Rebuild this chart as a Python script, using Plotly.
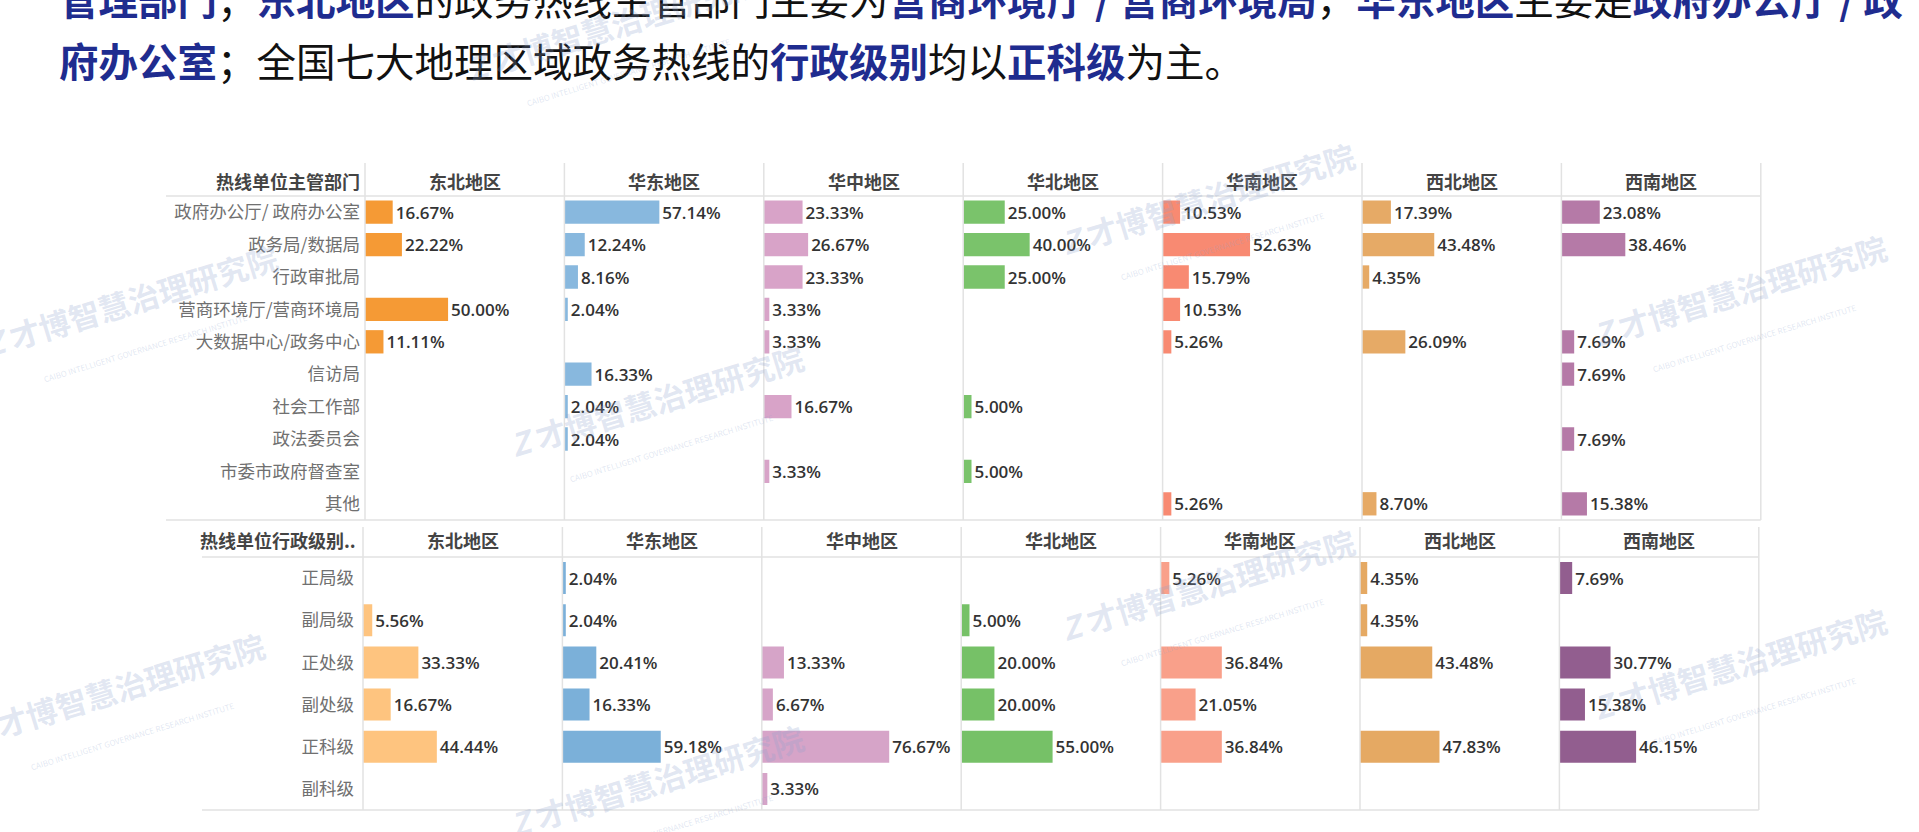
import plotly.graph_objects as go

W, H = 1919, 832

# ---------------- data ----------------
regions = ["东北地区", "华东地区", "华中地区", "华北地区", "华南地区", "西北地区", "西南地区"]

dept_categories = ["政府办公厅/ 政府办公室", "政务局/数据局", "行政审批局", "营商环境厅/营商环境局",
                   "大数据中心/政务中心", "信访局", "社会工作部", "政法委员会", "市委市政府督查室", "其他"]
dept_dongbei = [16.67, 22.22, None, 50.00, 11.11, None, None, None, None, None]
dept_huadong = [57.14, 12.24, 8.16, 2.04, None, 16.33, 2.04, 2.04, None, None]
dept_huazhong = [23.33, 26.67, 23.33, 3.33, 3.33, None, 16.67, None, 3.33, None]
dept_huabei = [25.00, 40.00, 25.00, None, None, None, 5.00, None, 5.00, None]
dept_huanan = [10.53, 52.63, 15.79, 10.53, 5.26, None, None, None, None, 5.26]
dept_xibei = [17.39, 43.48, 4.35, None, 26.09, None, None, None, None, 8.70]
dept_xinan = [23.08, 38.46, None, None, 7.69, 7.69, None, 7.69, None, 15.38]

level_categories = ["正局级", "副局级", "正处级", "副处级", "正科级", "副科级"]
level_dongbei = [None, 5.56, 33.33, 16.67, 44.44, None]
level_huadong = [2.04, 2.04, 20.41, 16.33, 59.18, None]
level_huazhong = [None, None, 13.33, 6.67, 76.67, 3.33]
level_huabei = [None, 5.00, 20.00, 20.00, 55.00, None]
level_huanan = [5.26, None, 36.84, 21.05, 36.84, None]
level_xibei = [4.35, 4.35, 43.48, None, 47.83, None]
level_xinan = [7.69, None, 30.77, 15.38, 46.15, None]

dept_series = [dept_dongbei, dept_huadong, dept_huazhong, dept_huabei, dept_huanan, dept_xibei, dept_xinan]
level_series = [level_dongbei, level_huadong, level_huazhong, level_huabei, level_huanan, level_xibei, level_xinan]

dept_colors = ["#F59A35", "#88B8DE", "#D8A3C8", "#7AC36B", "#F88A72", "#E6AA66", "#B57AA7"]
level_colors = ["#FEC47F", "#7BB0D9", "#D6A4C8", "#76C167", "#F9A08A", "#E5A963", "#925E8F"]

# ---------------- layout helpers ----------------
def px(x):
    return x / W

def py(y):
    return 1 - y / H

COL_W = 199.4
TOP_X0, BOT_X0 = 365.0, 363.0
TOP_Y0, TOP_Y1 = 196.0, 520.0
BOT_Y0, BOT_Y1 = 557.0, 810.0

FONT = "Open Sans, Noto Sans CJK SC, sans-serif"
CJK = "Noto Sans CJK SC, sans-serif"
LINE = "#e2e2e2"

fig = go.Figure()
layout = dict(
    width=W, height=H, margin=dict(l=0, r=0, t=0, b=0),
    paper_bgcolor="white", plot_bgcolor="rgba(0,0,0,0)",
    showlegend=False, font=dict(family=FONT),
)

def fmt(v):
    return "" if v is None else f"{v:.2f}%"

VAL_FONT = dict(family=FONT, size=17, color="#333333", weight=600)

for i in range(7):
    # top panel
    xa = "x" if i == 0 else f"x{i + 1}"
    xkey = "xaxis" if i == 0 else f"xaxis{i + 1}"
    fig.add_trace(go.Bar(
        y=dept_categories, x=dept_series[i], orientation="h",
        xaxis=xa, yaxis="y", marker=dict(color=dept_colors[i], line=dict(width=0)),
        width=0.72, text=[fmt(v) for v in dept_series[i]], textposition="outside",
        textfont=VAL_FONT, cliponaxis=False, constraintext="none", hoverinfo="skip",
    ))
    layout[xkey] = dict(domain=[px(TOP_X0 + COL_W * i), px(TOP_X0 + COL_W * (i + 1))],
                        range=[0, 120], anchor="y", visible=False, fixedrange=True)
    # bottom panel
    j = i + 8
    xb = f"x{j}"
    fig.add_trace(go.Bar(
        y=level_categories, x=level_series[i], orientation="h",
        xaxis=xb, yaxis="y2", marker=dict(color=level_colors[i], line=dict(width=0)),
        width=0.76, text=[fmt(v) for v in level_series[i]], textposition="outside",
        textfont=VAL_FONT, cliponaxis=False, constraintext="none", hoverinfo="skip",
    ))
    layout[f"xaxis{j}"] = dict(domain=[px(BOT_X0 + COL_W * i), px(BOT_X0 + COL_W * (i + 1))],
                               range=[0, 120], anchor="y2", visible=False, fixedrange=True)

layout["yaxis"] = dict(domain=[py(TOP_Y1), py(TOP_Y0)], type="category",
                       categoryorder="array", categoryarray=dept_categories,
                       range=[len(dept_categories) - 0.5, -0.5], anchor="x",
                       showgrid=False, zeroline=False, showline=False, ticks="",
                       ticklabelstandoff=4, tickfont=dict(family=CJK, size=17.5, color="#707070"))
layout["yaxis2"] = dict(domain=[py(BOT_Y1), py(BOT_Y0)], type="category",
                        categoryorder="array", categoryarray=level_categories,
                        range=[len(level_categories) - 0.5, -0.5], anchor="x8",
                        showgrid=False, zeroline=False, showline=False, ticks="",
                        ticklabelstandoff=8, tickfont=dict(family=CJK, size=17.5, color="#707070"))

shapes = []
# top panel lines
for yy in (TOP_Y0, TOP_Y1):
    shapes.append(dict(type="line", xref="paper", yref="paper", x0=px(166), x1=px(TOP_X0 + 7 * COL_W),
                       y0=py(yy), y1=py(yy), line=dict(color=LINE, width=1.5)))
for i in range(8):
    xx = TOP_X0 + COL_W * i
    shapes.append(dict(type="line", xref="paper", yref="paper", x0=px(xx), x1=px(xx),
                       y0=py(163), y1=py(TOP_Y1), line=dict(color=LINE, width=1.5)))
# bottom panel lines
for yy in (BOT_Y0, BOT_Y1):
    shapes.append(dict(type="line", xref="paper", yref="paper", x0=px(202), x1=px(BOT_X0 + 7 * COL_W),
                       y0=py(yy), y1=py(yy), line=dict(color=LINE, width=1.5)))
for i in range(8):
    xx = BOT_X0 + COL_W * i
    shapes.append(dict(type="line", xref="paper", yref="paper", x0=px(xx), x1=px(xx),
                       y0=py(527), y1=py(BOT_Y1), line=dict(color=LINE, width=1.5)))
layout["shapes"] = shapes

ann = []
hdr_font = dict(family=CJK, size=18, color="#444444", weight="bold")
for i, r in enumerate(regions):
    ann.append(dict(text=r, xref="paper", yref="paper", x=px(TOP_X0 + COL_W * (i + 0.5)), y=py(181),
                    xanchor="center", yanchor="middle", showarrow=False, font=hdr_font))
    ann.append(dict(text=r, xref="paper", yref="paper", x=px(BOT_X0 + COL_W * (i + 0.5)), y=py(540),
                    xanchor="center", yanchor="middle", showarrow=False, font=hdr_font))
ann.append(dict(text="热线单位主管部门", xref="paper", yref="paper", x=px(362), y=py(181),
                xanchor="right", yanchor="middle", showarrow=False, font=hdr_font))
ann.append(dict(text="热线单位行政级别..", xref="paper", yref="paper", x=px(358), y=py(540),
                xanchor="right", yanchor="middle", showarrow=False, font=hdr_font))

# headline text (slide body)
BLUE = "#1F2C8F"
def b(t):
    return f"<b><span style='color:{BLUE}'>{t}</span></b>"
line1 = (b("管理部门") + "；" + b("东北地区") + "的政务热线主管部门主要为" + b("营商环境厅 / 营商环境局")
         + "，" + b("华东地区") + "主要是" + b("政府办公厅 / 政"))
line2 = b("府办公室") + "；全国七大地理区域政务热线的" + b("行政级别") + "均以" + b("正科级") + "为主。"
for txt, yy in ((line1, -2), (line2, 60)):
    ann.append(dict(text=txt, xref="paper", yref="paper", x=px(57), y=py(yy),
                    xanchor="left", yanchor="middle", showarrow=False,
                    font=dict(family=CJK, size=39.5, color="#111111")))

# watermarks
wm_centers = [(618, 40), (135, 316), (661, 416), (1212, 214), (1744, 306),
              (1212, 600), (1744, 679), (122, 704), (661, 796)]
for cx, cy in wm_centers:
    ann.append(dict(text="<b><i>Z</i> 才博智慧治理研究院</b><br><span style='font-size:8px'>"
                         "CAIBO INTELLIGENT GOVERNANCE RESEARCH INSTITUTE</span>",
                    xref="paper", yref="paper", x=px(cx), y=py(cy), xanchor="center", yanchor="middle",
                    showarrow=False, textangle=-17,
                    font=dict(family=CJK, size=31, color="rgba(140,162,205,0.26)")))

layout["annotations"] = ann
fig.update_layout(**layout)
fig.write_html("out.html")
